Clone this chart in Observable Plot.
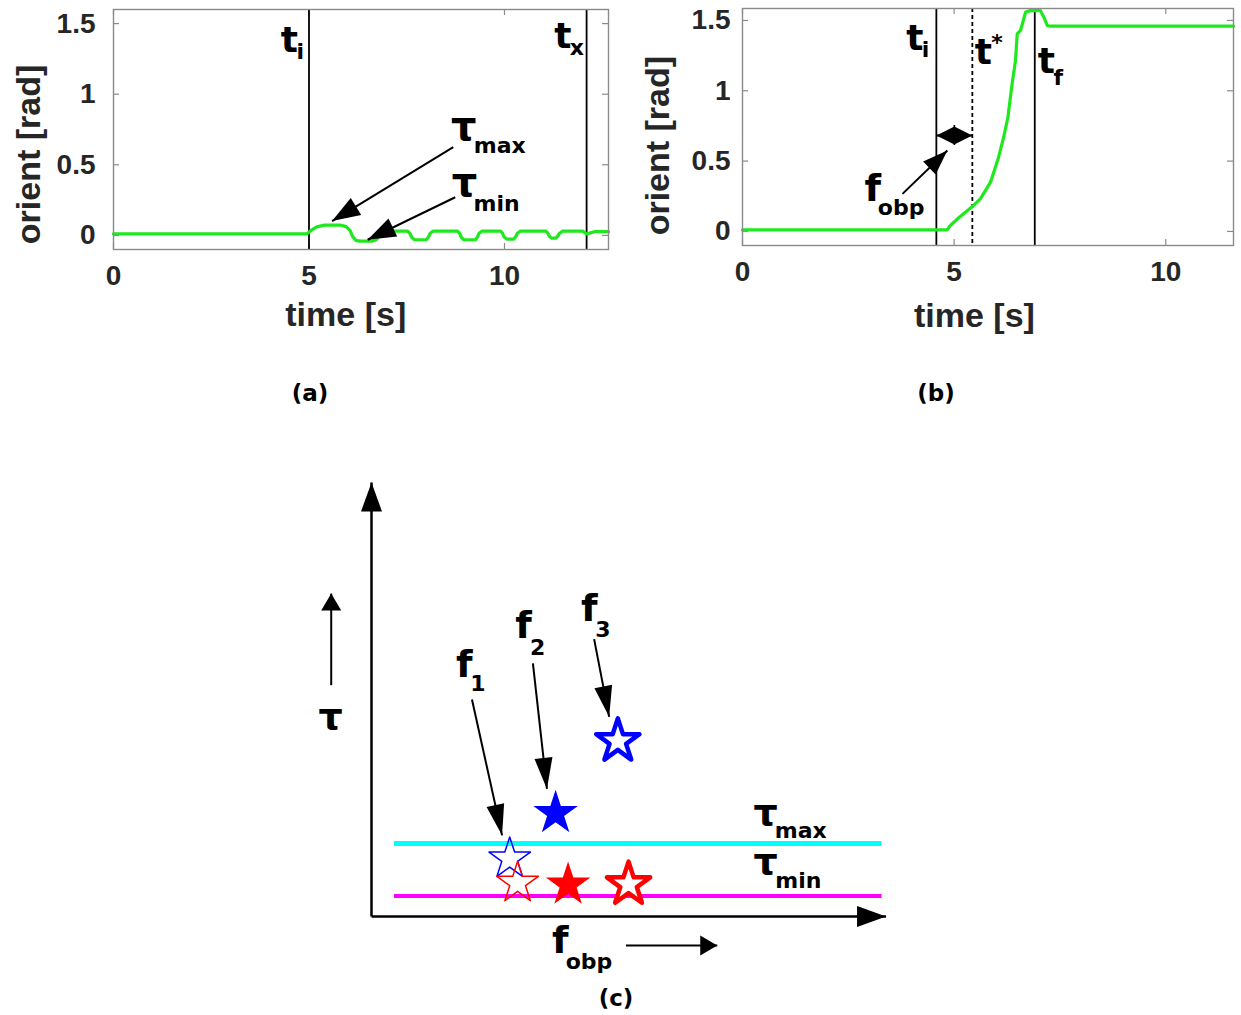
<!DOCTYPE html>
<html>
<head>
<meta charset="utf-8">
<script src="https://cdn.jsdelivr.net/npm/d3@7"></script>
<script src="https://cdn.jsdelivr.net/npm/@observablehq/plot@0.6"></script>
<style>
  body { margin: 0; background: #fff; }
  #fig { position: relative; width: 1241px; height: 1015px; overflow: hidden; background: #fff; }
  .panel { position: absolute; }
  .cap { position: absolute; transform: translate(-50%, -50%); font: bold 23px "DejaVu Sans", sans-serif; color: #000; white-space: nowrap; }
</style>
</head>
<body>
<div id="fig">
  <div class="panel" id="pa" style="left:0px; top:0px"></div>
  <div class="panel" id="pb" style="left:620px; top:0px"></div>
  <div class="panel" id="pc" style="left:280px; top:460px"></div>
  <div class="cap" style="left:310px; top:393px">(a)</div>
  <div class="cap" style="left:936px; top:393px">(b)</div>
  <div class="cap" style="left:616px; top:998px">(c)</div>
</div>
<script>
// ---------- data ----------
// (a) orientation response that oscillates around zero after the push
const timeA = [0, 4.95, 5.05, 5.2, 5.4, 5.8, 5.95, 6.05, 6.12, 6.2, 6.3, 6.6, 6.72, 6.82, 6.92, 7.05,
  7.52, 7.58, 7.63, 7.7, 8.0, 8.06, 8.1, 8.17, 8.8, 8.85, 8.9, 8.96, 9.26, 9.31, 9.35, 9.42,
  9.9, 9.95, 9.99, 10.06, 10.24, 10.29, 10.33, 10.4, 11.06, 11.11, 11.15, 11.21, 11.31, 11.36,
  11.41, 11.48, 12.0, 12.06, 12.12, 12.2, 12.3, 12.66];
const orientA = [0.011, 0.011, 0.035, 0.06, 0.073, 0.073, 0.062, 0.035, -0.01, -0.035, -0.041, -0.041, -0.03, 0.0, 0.022, 0.03,
  0.03, 0.015, -0.015, -0.031, -0.031, -0.01, 0.015, 0.03, 0.03, 0.015, -0.015, -0.031, -0.031, -0.01, 0.015, 0.03,
  0.03, 0.015, -0.012, -0.026, -0.026, -0.008, 0.015, 0.03, 0.03, 0.015, -0.008, -0.02, -0.02, -0.005,
  0.015, 0.03, 0.03, 0.018, 0.01, 0.018, 0.026, 0.026];
const tInitA = 5.0;
const tExitA = 12.1;

// (b) orientation response that turns over
const timeB = [0, 4.8, 4.84, 4.91, 5.11, 5.43, 5.62, 5.86, 6.05, 6.17, 6.27, 6.37, 6.45, 6.49, 6.57,
  6.69, 6.8, 7.04, 7.12, 7.2, 7.28, 11.6];
const orientB = [0.011, 0.011, 0.013, 0.042, 0.097, 0.177, 0.232, 0.35, 0.528, 0.67, 0.81, 1.05, 1.215, 1.405, 1.43,
  1.56, 1.57, 1.57, 1.523, 1.464, 1.459, 1.459];
const tInitB = 4.58;
const tStarB = 5.43;
const tFinalB = 6.905;

const timeTicks = [0, 5, 10];
const orientTicks = [0, 0.5, 1, 1.5];

// (c) sketch: torque bounds and the stars for three push forces
const tauMax = 1.68;
const tauMin = 0.47;
const boundStart = 0.45, boundEnd = 10.01;
const starFobp = [2.71, 2.865, 3.61, 3.855, 4.83, 5.04];
const starTau = [1.33, 0.77, 2.38, 0.73, 4.04, 0.74];
const starSeries = ["max", "min", "max", "min", "max", "min"];
const starForce = ["f1", "f1", "f2", "f2", "f3", "f3"];

// ---------- styles ----------
const GREEN = "#1ee81e";
const FRAME = "#8a8a8a";
const AXIS_FONT = "'Liberation Sans', Arial, Helvetica, sans-serif";
const ANNOT_FONT = "'DejaVu Sans', Verdana, sans-serif";
const seriesColor = {max: "#0000ff", min: "#ff0000"};

function annot(text, x, y, size, extra = {}) {
  return Plot.text([text], {x: [x], y: [y], text: d => d, fontFamily: ANNOT_FONT, fontWeight: "bold",
    fontSize: size, fill: "black", ...extra});
}
// main symbol with a subscript (or superscript) placed just to its right
function scripted(main, sub, x, y, size, subSize, dx, dy) {
  return [
    annot(main, x, y, size),
    annot(sub, x, y, subSize, {textAnchor: "start", dx, dy})
  ];
}
function boxTicks(xt, yt, fw, fh) {
  const len = 6;
  return [
    Plot.tickX(xt, {x: d => d, insetTop: fh - len, stroke: FRAME, strokeWidth: 1.2}),
    Plot.tickX(xt, {x: d => d, insetBottom: fh - len, stroke: FRAME, strokeWidth: 1.2}),
    Plot.tickY(yt, {y: d => d, insetRight: fw - len, stroke: FRAME, strokeWidth: 1.2}),
    Plot.tickY(yt, {y: d => d, insetLeft: fw - len, stroke: FRAME, strokeWidth: 1.2})
  ];
}
function axesFor(yPad, xLabelAt, yLabelAt, xLabelDy, yLabelDx) {
  return [
    Plot.axisX(timeTicks, {tickSize: 0, tickPadding: 16, fontSize: 28, fontWeight: "bold", label: null, tickFormat: d => String(d)}),
    Plot.axisY(orientTicks, {tickSize: 0, tickPadding: yPad, fontSize: 28, fontWeight: "bold", label: null, tickFormat: d => String(d)}),
    Plot.text(["time [s]"], {x: [xLabelAt], frameAnchor: "bottom", textAnchor: "middle", lineAnchor: "middle", dy: xLabelDy, text: d => d,
      fontSize: 34, fontWeight: "bold", fontFamily: AXIS_FONT, fill: "#262626"}),
    Plot.text(["orient [rad]"], {y: [yLabelAt], frameAnchor: "left", textAnchor: "middle", lineAnchor: "middle", dx: yLabelDx, rotate: -90, text: d => d,
      fontSize: 34, fontWeight: "bold", fontFamily: AXIS_FONT, fill: "#262626"})
  ];
}
const pointer = name => ({ariaLabel: () => name});

// filled triangular heads for the link marks tagged with a name
let headId = 0;
function addHeads(svg, name, len, wid, both = false) {
  const root = d3.select(svg);
  let defs = root.select("defs");
  if (defs.empty()) defs = root.insert("defs", ":first-child");
  const id = "head-" + (headId++);
  const m = defs.append("marker").attr("id", id).attr("markerUnits", "userSpaceOnUse")
    .attr("viewBox", `0 0 ${len} ${wid}`).attr("markerWidth", len).attr("markerHeight", wid)
    .attr("refX", len).attr("refY", wid / 2).attr("orient", "auto-start-reverse").attr("overflow", "visible");
  m.append("path").attr("d", `M0,0L${len},${wid / 2}L0,${wid}Z`).attr("fill", "#000");
  root.selectAll(`[aria-label="${name}"]`).each(function () {
    const els = (this.tagName === "path" || this.tagName === "line") ? [this] : Array.from(this.querySelectorAll("path,line"));
    for (const el of els) {
      el.setAttribute("marker-end", `url(#${id})`);
      if (both) el.setAttribute("marker-start", `url(#${id})`);
    }
  });
}

const baseStyle = {fontFamily: AXIS_FONT, fontWeight: "bold", color: "#262626", background: "transparent", overflow: "visible"};

// ---------- (a) ----------
const svgA = Plot.plot({
  width: 620, height: 340,
  marginLeft: 113, marginRight: 12, marginTop: 9, marginBottom: 91,
  style: baseStyle,
  x: {domain: [0, 12.66]},
  y: {domain: [-0.1, 1.6]},
  marks: [
    ...boxTicks(timeTicks, orientTicks, 495, 240),
    ...axesFor(18, 5.94, 0.573, 66, -84),
    Plot.ruleX([tInitA, tExitA], {stroke: "black", strokeWidth: 1.8}),
    Plot.line(timeA.map((t, i) => ({t, v: orientA[i]})), {x: "t", y: "v", stroke: GREEN, strokeWidth: 3.2}),
    Plot.link([{x1: 8.69, y1: 0.625, x2: 5.59, y2: 0.101}, {x1: 8.74, y1: 0.27, x2: 6.5, y2: -0.031}],
      {x1: "x1", y1: "y1", x2: "x2", y2: "y2", stroke: "black", strokeWidth: 2, ...pointer("head-a")}),
    ...scripted("t", "i", 4.5, 1.384, 36, 22, 7, 12),
    ...scripted("t", "x", 11.49, 1.409, 36, 22, 7, 11),
    ...scripted("τ", "max", 8.96, 0.766, 40, 22, 10, 19),
    ...scripted("τ", "min", 8.98, 0.368, 40, 22, 9, 21),
    Plot.frame({stroke: FRAME, strokeWidth: 1.4})
  ]
});
addHeads(svgA, "head-a", 28, 20);
document.getElementById("pa").append(svgA);

// ---------- (b) ----------
const svgB = Plot.plot({
  width: 621, height: 340,
  marginLeft: 122, marginRight: 8, marginTop: 8, marginBottom: 95,
  style: baseStyle,
  x: {domain: [0, 11.6]},
  y: {domain: [-0.1, 1.585]},
  marks: [
    ...boxTicks(timeTicks, orientTicks, 491, 237),
    ...axesFor(12, 5.48, 0.61, 71, -84),
    Plot.ruleX([tInitB, tFinalB], {stroke: "black", strokeWidth: 1.8}),
    Plot.ruleX([tStarB], {stroke: "black", strokeWidth: 1.8, strokeDasharray: "4,3"}),
    Plot.line(timeB.map((t, i) => ({t, v: orientB[i]})), {x: "t", y: "v", stroke: GREEN, strokeWidth: 3.2}),
    Plot.link([{x1: tInitB, x2: tStarB, y: 0.682}], {x1: "x1", x2: "x2", y1: "y", y2: "y", stroke: "black", strokeWidth: 2, ...pointer("head-b2")}),
    Plot.ruleX([(tInitB + tStarB) / 2], {y1: 0.611, y2: 0.753, stroke: "black", strokeWidth: 1.6}),
    Plot.link([{x1: 3.78, y1: 0.267, x2: 4.84, y2: 0.575}], {x1: "x1", y1: "y1", x2: "x2", y2: "y2", stroke: "black", strokeWidth: 2, ...pointer("head-b1")}),
    ...scripted("t", "i", 4.07, 1.375, 36, 22, 7, 12),
    ...scripted("t", "*", 5.69, 1.275, 36, 22, 8, -9),
    ...scripted("t", "f", 7.18, 1.208, 36, 22, 7, 16),
    ...scripted("f", "obp", 3.08, 0.305, 38, 22, 5, 19),
    Plot.frame({stroke: FRAME, strokeWidth: 1.4})
  ]
});
addHeads(svgB, "head-b1", 25, 18);
addHeads(svgB, "head-b2", 18, 18, true);
document.getElementById("pb").append(svgB);

// ---------- (c) ----------
const stars = starFobp.map((f, i) => ({f, tau: starTau[i], series: starSeries[i], force: starForce[i]}));
const starMark = (force, opts) => Plot.dot(stars.filter(d => d.force === force),
  {x: "f", y: "tau", symbol: "star", strokeLinejoin: "round", ...opts});

const svgC = Plot.plot({
  width: 640, height: 520,
  marginLeft: 91, marginRight: 39, marginTop: 22, marginBottom: 64,
  style: {...baseStyle, fontFamily: ANNOT_FONT},
  x: {domain: [0, 10], axis: null},
  y: {domain: [0, 10], axis: null},
  color: {type: "identity"},
  marks: [
    // coordinate axes
    Plot.link([{x1: 0, y1: 0, x2: 0, y2: 10}, {x1: 0, y1: 0, x2: 10.09, y2: 0}],
      {x1: "x1", y1: "y1", x2: "x2", y2: "y2", stroke: "black", strokeWidth: 2.5, ...pointer("head-axis")}),
    // torque bounds
    Plot.ruleY([tauMax], {x1: boundStart, x2: boundEnd, stroke: "#00ffff", strokeWidth: 5}),
    Plot.ruleY([tauMin], {x1: boundStart, x2: boundEnd, stroke: "#ff00ff", strokeWidth: 4}),
    // stars: f1 thin outline, f2 filled, f3 thick outline
    starMark("f1", {r: 13, fill: "none", stroke: d => seriesColor[d.series], strokeWidth: 1.5}),
    starMark("f2", {r: 14, fill: d => seriesColor[d.series], stroke: "none"}),
    starMark("f3", {r: 13.6, fill: "white", stroke: d => seriesColor[d.series], strokeWidth: 4.5}),
    // pointers from the force labels
    Plot.link([{x1: 1.97, y1: 5.0, x2: 2.56, y2: 1.87}, {x1: 3.165, y1: 5.83, x2: 3.44, y2: 2.94}, {x1: 4.365, y1: 6.39, x2: 4.66, y2: 4.6}],
      {x1: "x1", y1: "y1", x2: "x2", y2: "y2", stroke: "black", strokeWidth: 2, ...pointer("head-f")}),
    // direction arrows beside the axis names
    Plot.link([{x1: -0.79, y1: 5.33, x2: -0.79, y2: 7.44}, {x1: 4.99, y1: -0.67, x2: 6.78, y2: -0.67}],
      {x1: "x1", y1: "y1", x2: "x2", y2: "y2", stroke: "black", strokeWidth: 2, ...pointer("head-dir")}),
    ...scripted("f", "1", 1.82, 5.8, 38, 22, 6, 19.5),
    ...scripted("f", "2", 2.98, 6.69, 38, 22, 6.5, 21.5),
    ...scripted("f", "3", 4.27, 7.09, 38, 22, 6, 21.5),
    annot("τ", -0.8, 4.59, 38),
    ...scripted("f", "obp", 3.7, -0.57, 38, 22, 5.5, 21),
    ...scripted("τ", "max", 7.73, 2.4, 38, 22, 9, 19),
    ...scripted("τ", "min", 7.73, 1.25, 38, 22, 9.5, 18.5)
  ]
});
addHeads(svgC, "head-axis", 29, 21);
addHeads(svgC, "head-f", 31, 18);
addHeads(svgC, "head-dir", 17, 20);
document.getElementById("pc").append(svgC);
</script>
</body>
</html>
